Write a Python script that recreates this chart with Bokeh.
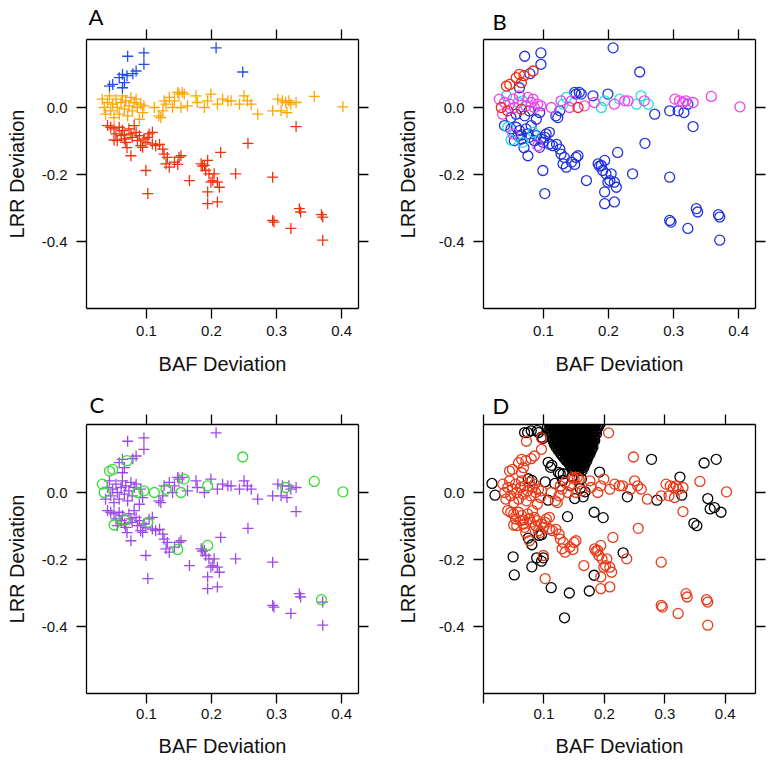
from bokeh.plotting import figure
from bokeh.layouts import column, row
from bokeh.models import Range1d, LinearAxis, FixedTicker
from bokeh.embed import file_html
from bokeh.resources import INLINE

# ---------------- data ----------------
base_x = [0.071, 0.096, 0.096, 0.207, 0.248, 0.084, 0.079, 0.063, 0.058, 0.066, 0.043, 0.048, 0.063, 0.070,
          0.032, 0.035, 0.040, 0.037, 0.043, 0.045, 0.048, 0.050, 0.053, 0.055, 0.058, 0.061, 0.063, 0.066,
          0.068, 0.071, 0.073, 0.076, 0.078, 0.081, 0.084, 0.086, 0.089, 0.091, 0.096, 0.094,
          0.112, 0.119, 0.122, 0.125, 0.127, 0.130, 0.135, 0.140, 0.143, 0.148, 0.150, 0.153, 0.155, 0.158,
          0.163, 0.176, 0.178, 0.189, 0.194, 0.199, 0.209, 0.217, 0.225, 0.230, 0.243, 0.250, 0.255, 0.261,
          0.271, 0.294, 0.302, 0.307, 0.309, 0.314, 0.319, 0.322, 0.330, 0.358, 0.402, 0.316,
          0.040, 0.045, 0.050, 0.053, 0.055, 0.058, 0.061, 0.063, 0.066, 0.068, 0.073, 0.076, 0.078, 0.081,
          0.084, 0.086, 0.089, 0.091, 0.094, 0.096, 0.099, 0.102, 0.104, 0.109, 0.109, 0.076, 0.114, 0.125,
          0.127, 0.130, 0.132, 0.135, 0.143, 0.148, 0.150, 0.153, 0.166, 0.184, 0.189, 0.191, 0.194, 0.196,
          0.199, 0.202, 0.204, 0.209, 0.214, 0.194, 0.194, 0.209, 0.237, 0.256, 0.294, 0.099, 0.102, 0.330,
          0.294, 0.296, 0.322, 0.335, 0.337, 0.369, 0.371, 0.371, 0.050, 0.066, 0.212, 0.186, 0.120, 0.070]
base_y = [0.153, 0.163, 0.129, 0.178, 0.106, 0.109, 0.101, 0.099, 0.089, 0.074, 0.064, 0.069, 0.059, 0.095,
          0.025, 0.000, 0.015, -0.020, 0.035, -0.010, 0.010, -0.030, 0.025, 0.000, -0.020, 0.015, 0.035, -0.005,
          0.020, -0.025, 0.005, 0.030, -0.010, 0.015, 0.025, 0.000, -0.035, 0.010, 0.005, -0.015,
          0.000, -0.025, -0.030, -0.010, 0.020, 0.010, 0.030, 0.000, 0.020, 0.045, 0.040, 0.000, 0.045, 0.040,
          0.005, 0.035, 0.015, 0.000, 0.020, 0.040, 0.010, 0.025, 0.020, 0.020, 0.010, 0.035, 0.020, 0.010,
          -0.020, -0.010, 0.025, -0.010, 0.020, 0.015, 0.020, 0.010, 0.015, 0.033, 0.002, -0.015,
          -0.054, -0.059, -0.064, -0.079, -0.099, -0.059, -0.084, -0.069, -0.094, -0.104, -0.064, -0.079, -0.089, -0.054,
          -0.074, -0.099, -0.084, -0.114, -0.119, -0.094, -0.104, -0.089, -0.079, -0.074, -0.109, -0.144, -0.114, -0.124,
          -0.139, -0.168, -0.149, -0.178, -0.163, -0.170, -0.149, -0.144, -0.218, -0.168, -0.173, -0.188, -0.158, -0.198,
          -0.223, -0.218, -0.198, -0.223, -0.134, -0.252, -0.287, -0.282, -0.198, -0.107, -0.208, -0.188, -0.257, -0.057,
          -0.337, -0.342, -0.361, -0.302, -0.312, -0.320, -0.327, -0.396, -0.097, -0.082, -0.238, -0.175, -0.110, -0.120]

# panel A groups: b = blue, o = orange, r = red
class_a = list("b" * 14 + "o" * 66 + "r" * 70)
# panel B groups: B = blue, R = red, C = cyan, M = magenta
class_b = list("BBBBBRBRRRRRBR"
               "MRMMCRMBMMBCMRCBMMBMMMBMMB"
               "MBBBMCCMMB" "BRBBMBMCCB" "MCMMCCMCBB" "MBMMMBMMMB"
               "BCBMBBBBBC" "BBBBCBBMBB" + "B" * 40 + "BBBBCBBBBB")
# panel C groups: P = purple cross, G = green circle
class_c = list("PPPPGPPPPPGGPG"
               + "GG" + "P" * 19 + "GPPGP"
               + "G" + "PPPP" + "G" + "PPPPP" + "G" + "P" + "G" + "PPPP" + "G" + "P" * 14 + "G" + "PPP" + "GG" + "P"
               + "P" * 21 + "G" + "P" * 11 + "G" + "P" * 6 + "G" + "P" * 20 + "G" + "PP" + "GG" + "PPPP")

# panel D: extra black points (scattered)
black_x = [0.014, 0.019, 0.074, 0.080, 0.102, 0.107, 0.132, 0.151, 0.139, 0.165, 0.192, 0.183, 0.198, 0.238,
           0.278, 0.287, 0.325, 0.328, 0.365, 0.385, 0.371, 0.375, 0.382, 0.393, 0.348, 0.353, 0.231, 0.183,
           0.175, 0.142, 0.134, 0.112, 0.080, 0.096, 0.099, 0.088, 0.080, 0.049, 0.051, 0.092, 0.074, 0.096,
           0.146, 0.162, 0.168, 0.118, 0.073, 0.089, 0.098, 0.107, 0.111, 0.124, 0.131, 0.144, 0.160, 0.068,
           0.079, 0.091, 0.096, 0.113, 0.127]
black_y = [0.027, -0.008, 0.041, 0.036, 0.032, -0.023, 0.056, -0.018, -0.072, -0.013, 0.061, -0.059, -0.075, -0.013,
           0.099, -0.023, 0.046, -0.008, 0.088, 0.099, -0.018, -0.049, -0.045, -0.059, -0.092, -0.099, -0.180, -0.247,
           -0.294, -0.300, -0.374, -0.284, -0.222, -0.205, -0.195, -0.195, -0.156, -0.192, -0.246, -0.128, -0.136, -0.126,
           0.046, 0.041, 0.002, 0.027, 0.179, 0.185, 0.161, 0.090, 0.075, 0.060, 0.036, 0.021, 0.012, 0.179,
           0.184, 0.179, 0.165, 0.081, 0.056]
# panel D: dense black cluster, row by row (LRR value, BAF values)
dense_rows = [
    (0.215, [0.106, 0.113, 0.120, 0.127, 0.134, 0.141, 0.148, 0.155, 0.162, 0.169, 0.176, 0.183, 0.190]),
    (0.210, [0.110, 0.117, 0.124, 0.131, 0.138, 0.145, 0.152, 0.159, 0.166, 0.173, 0.180, 0.187]),
    (0.205, [0.109, 0.116, 0.123, 0.130, 0.137, 0.144, 0.151, 0.158, 0.165, 0.172, 0.179, 0.186, 0.193]),
    (0.200, [0.112, 0.119, 0.126, 0.133, 0.140, 0.147, 0.154, 0.161, 0.168, 0.175, 0.182, 0.189]),
    (0.195, [0.106, 0.113, 0.120, 0.127, 0.134, 0.141, 0.148, 0.155, 0.162, 0.169, 0.176, 0.183, 0.190]),
    (0.190, [0.110, 0.117, 0.124, 0.131, 0.138, 0.145, 0.152, 0.159, 0.166, 0.173, 0.180, 0.187]),
    (0.185, [0.108, 0.115, 0.122, 0.129, 0.136, 0.143, 0.150, 0.157, 0.164, 0.171, 0.178, 0.185]),
    (0.180, [0.111, 0.118, 0.125, 0.132, 0.139, 0.146, 0.153, 0.160, 0.167, 0.174, 0.181, 0.186]),
    (0.175, [0.110, 0.117, 0.124, 0.131, 0.138, 0.145, 0.152, 0.159, 0.166, 0.173, 0.180, 0.187]),
    (0.170, [0.113, 0.120, 0.127, 0.134, 0.141, 0.148, 0.155, 0.162, 0.169, 0.176, 0.183]),
    (0.165, [0.112, 0.119, 0.126, 0.133, 0.140, 0.147, 0.154, 0.161, 0.168, 0.175, 0.182]),
    (0.160, [0.115, 0.122, 0.129, 0.136, 0.143, 0.150, 0.157, 0.164, 0.171, 0.178, 0.183]),
    (0.155, [0.115, 0.122, 0.129, 0.136, 0.143, 0.150, 0.157, 0.164, 0.171, 0.178, 0.184]),
    (0.150, [0.118, 0.125, 0.132, 0.139, 0.146, 0.153, 0.160, 0.167, 0.174, 0.181]),
    (0.145, [0.117, 0.124, 0.131, 0.138, 0.145, 0.152, 0.159, 0.166, 0.173, 0.180]),
    (0.140, [0.121, 0.128, 0.135, 0.142, 0.149, 0.156, 0.163, 0.170, 0.177]),
    (0.135, [0.120, 0.127, 0.134, 0.141, 0.148, 0.155, 0.162, 0.169, 0.176, 0.181]),
    (0.130, [0.124, 0.131, 0.138, 0.145, 0.152, 0.159, 0.166, 0.173, 0.179]),
    (0.125, [0.124, 0.131, 0.138, 0.145, 0.152, 0.159, 0.166, 0.173, 0.178]),
    (0.120, [0.127, 0.134, 0.141, 0.148, 0.155, 0.162, 0.169, 0.175]),
    (0.115, [0.128, 0.135, 0.142, 0.149, 0.156, 0.163, 0.170, 0.176]),
    (0.110, [0.131, 0.138, 0.145, 0.152, 0.159, 0.166, 0.172]),
    (0.105, [0.132, 0.139, 0.146, 0.153, 0.160, 0.167, 0.173]),
    (0.100, [0.135, 0.142, 0.149, 0.156, 0.163, 0.169]),
    (0.095, [0.137, 0.144, 0.151, 0.158, 0.165, 0.171]),
    (0.090, [0.140, 0.147, 0.154, 0.161, 0.167]),
    (0.085, [0.142, 0.149, 0.156, 0.163, 0.168]),
    (0.080, [0.144, 0.151, 0.158, 0.164]),
    (0.075, [0.146, 0.153, 0.160, 0.166]),
    (0.070, [0.148, 0.155, 0.161]),
    (0.065, [0.150, 0.157, 0.163]),
]

y_ticks = [-0.4, -0.2, 0.0]
y_labels = {-0.4: "-0.4", -0.2: "-0.2", 0: "0.0"}
x_ticks_abc = [0.1, 0.2, 0.3, 0.4]
x_ticks_d = [0.0, 0.1, 0.2, 0.3, 0.4]
x_labels = {0: "", 0.1: "0.1", 0.2: "0.2", 0.3: "0.3", 0.4: "0.4"}

x_range_abc = (0.0077, 0.426)
x_range_d = (0.0, 0.45)
y_range_all = (-0.6, 0.203)

A_COLORS = {"b": "#1f4ee8", "o": "#ffa500", "r": "#f0330f"}
B_COLORS = {"B": "#2233dd", "R": "#ee2a10", "C": "#22dddd", "M": "#ee44ee"}
PURPLE = "#9b4ae8"
GREEN = "#33dd33"
D_RED = "#ea3a18"

FONT = "Liberation Sans"


def sel(cls_list, key):
    xs = [x for x, c in zip(base_x, cls_list) if c == key]
    ys = [y for y, c in zip(base_y, cls_list) if c == key]
    return xs, ys


def style_axis(ax, ticks, labels=None, tick_out=10, standoff=8, label_fs="15px"):
    ax.ticker = FixedTicker(ticks=ticks)
    ax.axis_line_color = "black"
    ax.axis_line_width = 1.3
    ax.major_tick_line_color = "black"
    ax.major_tick_line_width = 1.3
    ax.major_tick_out = tick_out
    ax.major_tick_in = 0
    ax.minor_tick_line_color = None
    if labels is None:
        ax.major_label_overrides = {t: "" for t in ticks}
        ax.major_label_text_font_size = "1px"
        ax.major_label_standoff = 0
    else:
        ax.major_label_overrides = labels
        ax.major_label_text_font = FONT
        ax.major_label_text_font_size = label_fs
        ax.major_label_text_color = "#111111"
        ax.major_label_standoff = standoff


def make_panel(letter, xr, xticks, width, height, bl, br, bt, bb, bottom_std, bottom_als, left_als,
               letter_dx, letter_standoff):
    p = figure(width=width, height=height, output_backend="svg", toolbar_location=None,
               x_range=Range1d(*xr), y_range=Range1d(*y_range_all),
               min_border_left=bl, min_border_right=br, min_border_top=bt, min_border_bottom=bb)
    p.xgrid.grid_line_color = None
    p.ygrid.grid_line_color = None
    p.outline_line_color = None
    p.background_fill_color = "white"
    p.border_fill_color = "white"

    p.title.text = letter
    p.title.text_font = "Lato"
    p.title.text_font_size = "22px"
    p.title.text_font_style = "normal"
    p.title.text_color = "black"
    p.title.align = "left"
    p.title.offset = letter_dx
    p.title.standoff = letter_standoff

    bx = p.xaxis[0]
    style_axis(bx, xticks, x_labels, tick_out=10, standoff=bottom_std)
    bx.axis_label = "BAF Deviation"
    bx.axis_label_text_font = FONT
    bx.axis_label_text_font_size = "20px"
    bx.axis_label_text_font_style = "normal"
    bx.axis_label_text_color = "#111111"
    bx.axis_label_standoff = bottom_als

    ly = p.yaxis[0]
    style_axis(ly, y_ticks, y_labels, tick_out=10, standoff=9)
    ly.axis_label = "LRR Deviation"
    ly.axis_label_text_font = FONT
    ly.axis_label_text_font_size = "20px"
    ly.axis_label_text_font_style = "normal"
    ly.axis_label_text_color = "#111111"
    ly.axis_label_standoff = left_als

    top = LinearAxis()
    style_axis(top, xticks, None, tick_out=10)
    p.add_layout(top, "above")
    right = LinearAxis()
    style_axis(right, y_ticks, None, tick_out=10)
    p.add_layout(right, "right")
    return p


# ---------------- panel A ----------------
pA = make_panel("A", x_range_abc, x_ticks_abc, 385, 384, 86, 27, 39, 76, 7, 14, 11, 2, -1)
for key in ["o", "r", "b"]:
    xs, ys = sel(class_a, key)
    pA.scatter(xs, ys, marker="cross", size=11, line_color=A_COLORS[key], line_width=1.3)

# ---------------- panel B ----------------
pB = make_panel("B", x_range_abc, x_ticks_abc, 383, 384, 98, 13, 39, 76, 7, 14, 17, 9, -11)
for key in ["B", "C", "M", "R"]:
    xs, ys = sel(class_b, key)
    pB.scatter(xs, ys, marker="circle", size=10, fill_color=None, line_color=B_COLORS[key], line_width=1.3)

# ---------------- panel C ----------------
pC = make_panel("C", x_range_abc, x_ticks_abc, 385, 377, 86, 27, 40, 68, 5, 13, 11, 3, -7)
xs, ys = sel(class_c, "P")
pC.scatter(xs, ys, marker="cross", size=11, line_color=PURPLE, line_width=1.3)
xs, ys = sel(class_c, "G")
pC.scatter(xs, ys, marker="circle", size=10, fill_color=None, line_color=GREEN, line_width=1.3)

# ---------------- panel D ----------------
pD = make_panel("D", x_range_d, x_ticks_d, 383, 377, 98, 13, 40, 68, 5, 13, 17, 9, -9)
dense_x = [x for _, row_x in dense_rows for x in row_x]
dense_y = [y for y, row_x in dense_rows for _ in row_x]
pD.scatter(dense_x + black_x, dense_y + black_y, marker="circle", size=10, fill_color=None,
           line_color="black", line_width=1.3)
pD.scatter(base_x, base_y, marker="circle", size=10, fill_color=None, line_color=D_RED, line_width=1.3)

layout = column(row(pA, pB), row(pC, pD))
open("out.html", "w").write(file_html(layout, INLINE))
